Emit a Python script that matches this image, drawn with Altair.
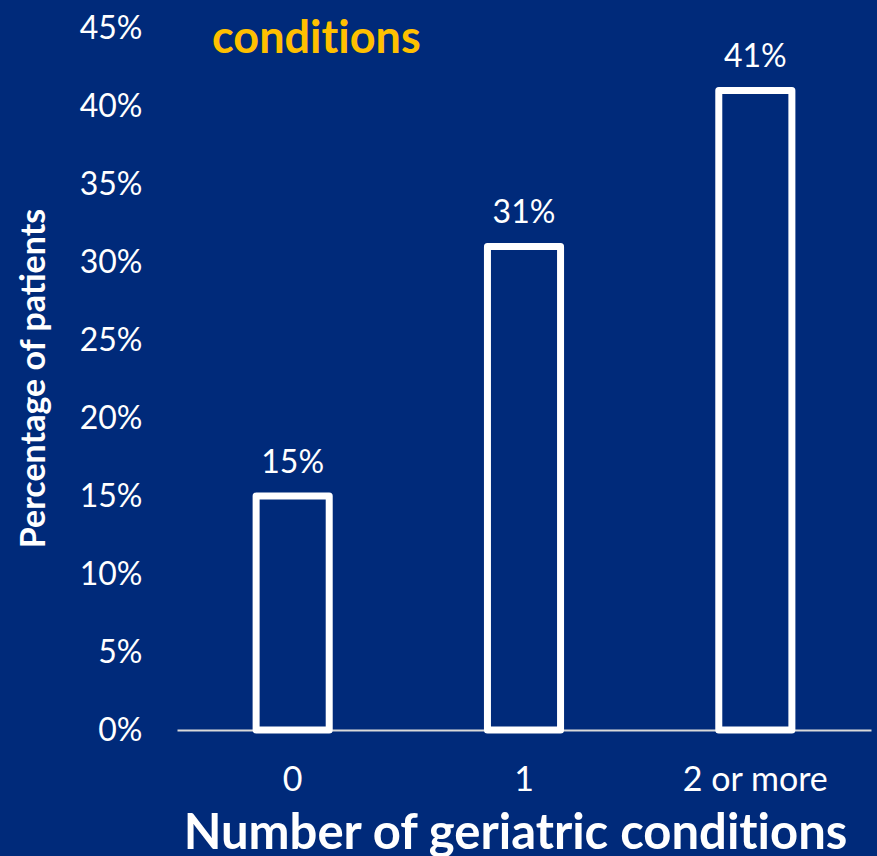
import altair as alt
import pandas as pd

# Share of patients by number of geriatric conditions
categories = ["0", "1", "2 or more"]
percentages = [0.15, 0.31, 0.41]
# zero-width non-joiner keeps "t" and "i" as separate glyphs
headline = ["condit\u200cions"]

BG = "#002A7A"
GOLD = "#FFC000"
FONT = "Lato"

df = pd.DataFrame({"group": categories, "share": percentages})
head_df = pd.DataFrame({"text": headline})

x_enc = alt.X(
    "group:N",
    sort=categories,
    scale=alt.Scale(paddingInner=0.684, paddingOuter=0.342),
    axis=alt.Axis(
        title="Number of geriatric condit\u200cions",
        titleFont=FONT,
        titleFontSize=49,
        titleFontWeight="bold",
        titleColor="white",
        titleX=338,
        titleY=118,
        titleBaseline="alphabetic",
        labelFont=FONT,
        labelFontSize=34,
        labelColor="white",
        labelAngle=0,
        labelBaseline="alphabetic",
        labelPadding=60,
        ticks=False,
        tickSize=0,
        domainColor="#D9D9D9",
        domainWidth=2,
        grid=False,
    ),
)

y_enc = alt.Y(
    "share:Q",
    scale=alt.Scale(domain=[0, 0.45], nice=False),
    axis=alt.Axis(
        title="Percentage of patients",
        titleFont=FONT,
        titleFontSize=34,
        titleFontWeight="bold",
        titleColor="white",
        titleAngle=-90,
        titleX=-133,
        titleY=350,
        titleBaseline="alphabetic",
        titleAlign="center",
        values=[i * 0.05 for i in range(10)],
        format=".0%",
        labelFont=FONT,
        labelFontSize=32,
        labelColor="white",
        labelPadding=35,
        labelBaseline="middle",
        ticks=False,
        tickSize=0,
        domain=False,
        grid=False,
    ),
)

bars = alt.Chart(df).mark_bar(
    fill=BG, stroke="white", strokeWidth=7, strokeJoin="round"
).encode(x=x_enc, y=y_enc)

values = alt.Chart(df).mark_text(
    font=FONT, fontSize=32, color="white", baseline="alphabetic", dy=-23
).encode(
    x=alt.X("group:N", sort=categories),
    y=alt.Y("share:Q"),
    text=alt.Text("share:Q", format=".0%"),
)

title = alt.Chart(head_df).mark_text(
    font=FONT, fontSize=45, fontWeight="bold", color=GOLD,
    align="left", baseline="alphabetic",
).encode(
    x=alt.value(35),
    y=alt.value(25),
    text="text:N",
)

chart = (
    alt.layer(bars, values, title)
    .properties(
        width=694,
        height=702,
        background=BG,
        padding={"left": 177, "top": 28, "right": 6, "bottom": 126},
        autosize=alt.AutoSizeParams(type="none"),
    )
    .configure_view(stroke=None)
)

chart.save("out.html", embed_options={"renderer": "svg", "actions": False})
